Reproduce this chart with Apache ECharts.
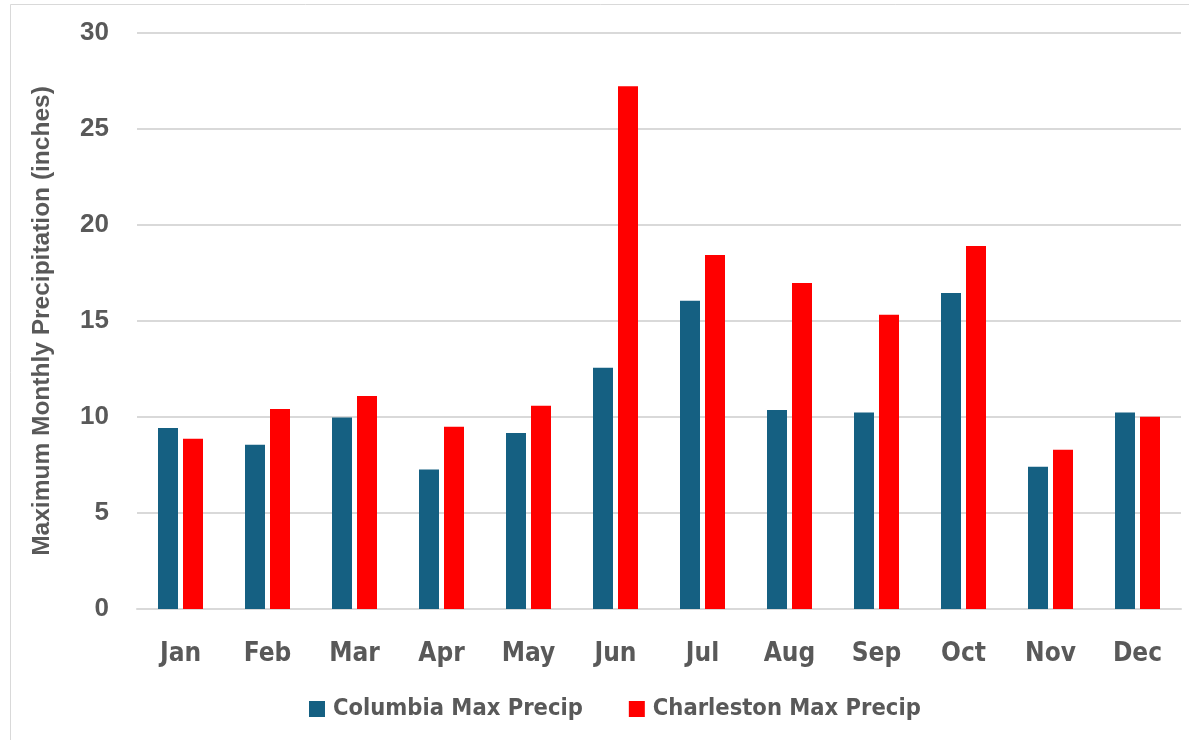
<!DOCTYPE html>
<html>
<head>
<meta charset="utf-8">
<script src="https://cdn.jsdelivr.net/npm/echarts@6/dist/echarts.min.js"></script>
<style>
  html, body { margin: 0; padding: 0; background: #ffffff; }
  #chart { width: 1189px; height: 740px; }
</style>
</head>
<body>
<div id="chart"></div>
<script>
// Monthly maximum precipitation (inches)
const months = ['Jan', 'Feb', 'Mar', 'Apr', 'May', 'Jun', 'Jul', 'Aug', 'Sep', 'Oct', 'Nov', 'Dec'];
const columbiaMax = [9.43, 8.55, 9.97, 7.26, 9.17, 12.56, 16.05, 10.36, 10.23, 16.46, 7.41, 10.23];
const charlestonMax = [8.87, 10.42, 11.10, 9.49, 10.58, 27.23, 18.44, 16.98, 15.33, 18.90, 8.29, 10.01];
const seriesNames = ['Columbia Max Precip', 'Charleston Max Precip'];
const yTitle = 'Maximum Monthly Precipitation (inches)';

const textGray = '#595959';
const gridGray = '#d9d9d9';
const narrowFont = '"DejaVu Sans Condensed", "DejaVu Sans", sans-serif';
const arialFont = '"Liberation Sans", Arial, sans-serif';

const chart = echarts.init(document.getElementById('chart'), null, { renderer: 'canvas' });

chart.setOption({
  backgroundColor: '#ffffff',
  animation: false,
  graphic: [{
    type: 'rect',
    shape: { x: 10.5, y: 4.5, width: 1200, height: 800 },
    style: { fill: 'none', stroke: gridGray, lineWidth: 1 },
    silent: true,
    z: -10
  }],
  grid: { left: 137, right: 8, top: 33, bottom: 131, containLabel: false },
  legend: {
    data: seriesNames,
    left: 304,
    top: 692,
    itemWidth: 16,
    itemHeight: 16,
    itemGap: 46,
    icon: 'rect',
    textStyle: {
      color: textGray,
      fontFamily: narrowFont,
      fontWeight: 'bold',
      fontSize: 23.5,
      padding: [0, 0, 0, 3]
    }
  },
  xAxis: {
    type: 'category',
    data: months,
    axisLine: { show: true, lineStyle: { color: gridGray, width: 2 } },
    axisTick: { show: false },
    axisLabel: {
      color: textGray,
      fontFamily: narrowFont,
      fontWeight: 'bold',
      fontSize: 26,
      margin: 32
    }
  },
  yAxis: {
    type: 'value',
    min: 0,
    max: 30,
    interval: 5,
    name: yTitle,
    nameLocation: 'middle',
    nameGap: 82,
    nameTextStyle: {
      color: textGray,
      fontFamily: arialFont,
      fontWeight: 'bold',
      fontSize: 24.5
    },
    axisLine: { show: false },
    axisTick: { show: false },
    splitLine: { lineStyle: { color: gridGray, width: 2 } },
    axisLabel: {
      color: textGray,
      fontFamily: arialFont,
      fontWeight: 'bold',
      fontSize: 26,
      margin: 28
    }
  },
  series: [
    {
      name: seriesNames[0],
      type: 'bar',
      data: columbiaMax,
      barWidth: 20,
      barGap: '25%',
      itemStyle: { color: '#156082' }
    },
    {
      name: seriesNames[1],
      type: 'bar',
      data: charlestonMax,
      barWidth: 20,
      barGap: '25%',
      itemStyle: { color: '#ff0000' }
    }
  ]
});
</script>
</body>
</html>
